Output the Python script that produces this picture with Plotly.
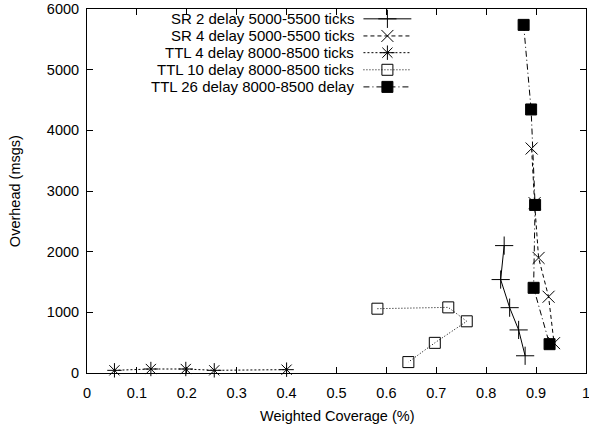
import plotly.graph_objects as go

# ---- data ----
series_names = [
    "SR 2 delay 5000-5500 ticks",
    "SR 4 delay 5000-5500 ticks",
    "TTL 4 delay 8000-8500 ticks",
    "TTL 10 delay 8000-8500 ticks",
    "TTL 26 delay 8000-8500 delay",
]

sr2_x = [0.836, 0.829, 0.847, 0.865, 0.878]
sr2_y = [2100, 1540, 1077, 710, 284]

sr4_x = [0.891, 0.897, 0.905, 0.925, 0.936]
sr4_y = [3700, 2800, 1897, 1257, 492]

ttl4_x = [0.055, 0.128, 0.198, 0.255, 0.400]
ttl4_y = [44, 66, 66, 44, 55]

ttl10_x = [0.582, 0.724, 0.761, 0.697, 0.644]
ttl10_y = [1060, 1082, 852, 497, 180]

ttl26_x = [0.875, 0.890, 0.898, 0.895, 0.927]
ttl26_y = [5738, 4344, 2770, 1404, 475]

x_ticks = [0, 0.1, 0.2, 0.3, 0.4, 0.5, 0.6, 0.7, 0.8, 0.9, 1]
y_ticks = [0, 1000, 2000, 3000, 4000, 5000, 6000]

x_title = "Weighted Coverage (%)"
y_title = "Overhead (msgs)"

# ---- styles ----
FONT = "Liberation Sans, Arial, Helvetica, sans-serif"
FS = 14.5
FS_LEG = 15
styles = [
    dict(dash="solid", symbol="cross-thin-open", size=13),
    dict(dash="4px,3px", symbol="x-thin-open", size=12),
    dict(dash="2px,2px", symbol="asterisk-open", size=12),
    dict(dash="1px,2px", symbol="square-open", size=11),
    dict(dash="6px,3px,1px,3px", symbol="square", size=11),
]
xs = [sr2_x, sr4_x, ttl4_x, ttl10_x, ttl26_x]
ys = [sr2_y, sr4_y, ttl4_y, ttl10_y, ttl26_y]

fig = go.Figure()
for name, x, y, st in zip(series_names, xs, ys, styles):
    fig.add_trace(go.Scatter(
        x=x, y=y, mode="lines+markers", name=name, showlegend=False,
        line=dict(color="black", width=1, dash=st["dash"]),
        marker=dict(symbol=st["symbol"], size=st["size"], color="black",
                    line=dict(color="black", width=1)),
        cliponaxis=False,
    ))

# ---- manual legend (text left, sample right, like gnuplot) ----
leg_rows = [0.973, 0.926, 0.880, 0.833, 0.786]
leg_x0, leg_x1, leg_xm, leg_txt = 0.554, 0.650, 0.602, 0.540
for name, ry, st in zip(series_names, leg_rows, styles):
    fig.add_trace(go.Scatter(
        x=[leg_x0, leg_x1], y=[ry, ry], mode="lines", xaxis="x2", yaxis="y2",
        showlegend=False, hoverinfo="skip",
        line=dict(color="black", width=1, dash=st["dash"]),
    ))
    fig.add_trace(go.Scatter(
        x=[leg_xm], y=[ry], mode="markers", xaxis="x2", yaxis="y2",
        showlegend=False, hoverinfo="skip",
        marker=dict(symbol=st["symbol"], size=st["size"], color="black",
                    line=dict(color="black", width=1)),
    ))
    fig.add_annotation(x=leg_txt, y=ry, xref="paper", yref="paper",
                       text=name, showarrow=False, xanchor="right",
                       yanchor="middle", font=dict(family=FONT, size=FS_LEG, color="black"))

# axis titles as annotations for exact placement
fig.add_annotation(x=0.5, y=-0.117, xref="paper", yref="paper", text=x_title,
                   showarrow=False, xanchor="center", yanchor="middle",
                   font=dict(family=FONT, size=FS, color="black"))
fig.add_annotation(x=-0.144, y=0.5, xref="paper", yref="paper", text=y_title,
                   showarrow=False, xanchor="center", yanchor="middle", textangle=-90,
                   font=dict(family=FONT, size=FS, color="black"))

axis_common = dict(
    showgrid=False, zeroline=False, showline=True, linecolor="black",
    linewidth=1, mirror="allticks", ticks="inside", ticklen=6,
    tickcolor="black", tickwidth=1, automargin=False,
    ticklabeloverflow="allow",
    tickfont=dict(family=FONT, size=FS, color="black"),
)

fig.update_layout(
    width=589, height=425,
    margin=dict(l=87, r=3, t=9, b=52),
    paper_bgcolor="white", plot_bgcolor="white",
    font=dict(family=FONT, size=FS, color="black"),
    xaxis=dict(range=[0, 1], tickvals=x_ticks,
               ticktext=[f"{v:g}" for v in x_ticks],
               ticklabelstandoff=7, **axis_common),
    yaxis=dict(range=[0, 6000], tickvals=y_ticks,
               ticktext=[str(v) for v in y_ticks],
               ticklabelstandoff=4, **axis_common),
    xaxis2=dict(range=[0, 1], overlaying="x", visible=False),
    yaxis2=dict(range=[0, 1], overlaying="y", visible=False),
    showlegend=False,
)

fig.write_html("out.html", config={"displayModeBar": False},
               post_script="document.body.style.margin='0';document.body.style.overflow='hidden';")
